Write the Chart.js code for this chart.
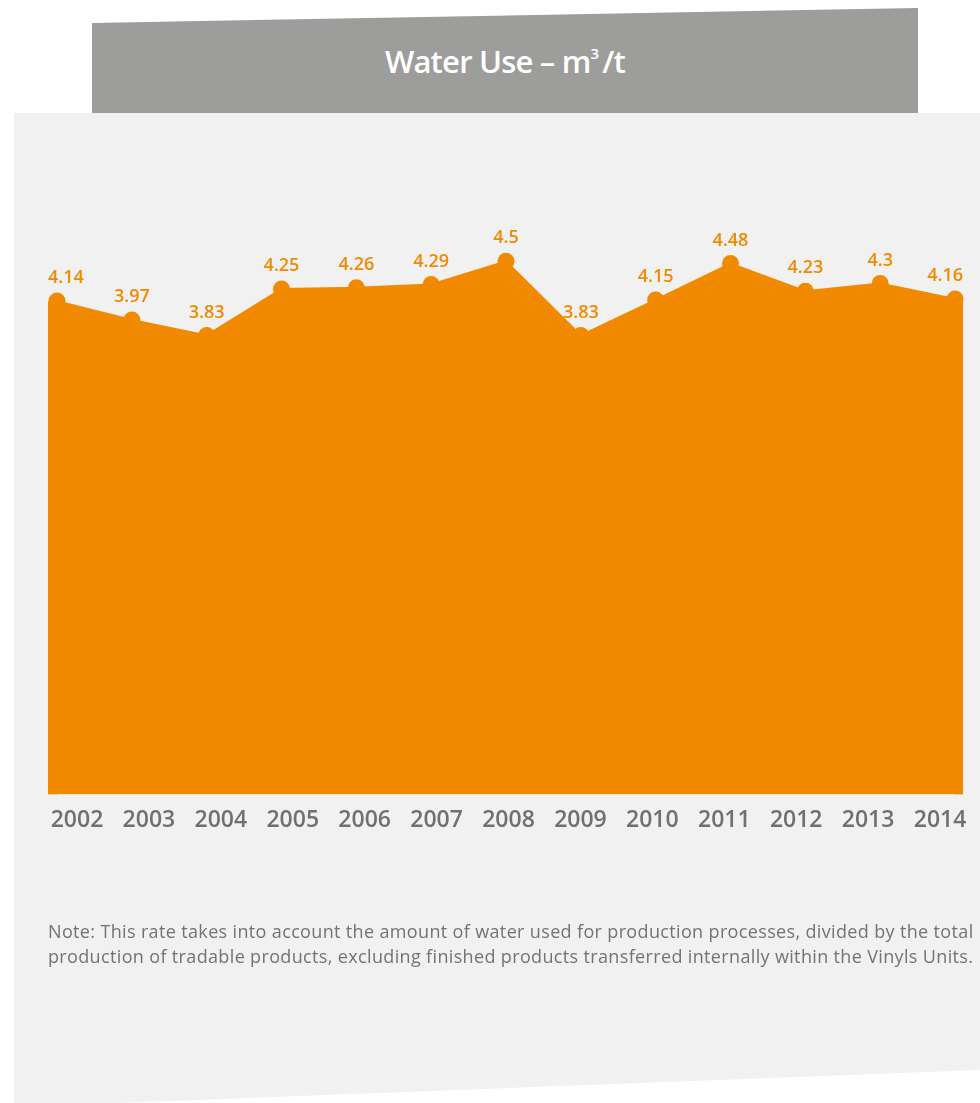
<!DOCTYPE html>
<html>
<head>
<meta charset="utf-8">
<script src="https://cdn.jsdelivr.net/npm/chart.js@4.4.1/dist/chart.umd.min.js"></script>
<style>
  html, body { margin: 0; padding: 0; background: #ffffff; }
  #wrap { position: relative; width: 980px; height: 1103px; overflow: hidden; background: #ffffff; }
  #panel { position: absolute; left: 0; top: 0; width: 980px; height: 1103px; background: #f1f1f1;
    clip-path: polygon(14px 113px, 980px 113px, 980px 1070px, 14px 1107px); }
  #banner { position: absolute; left: 0; top: 0; width: 980px; height: 113px; background: #9d9d9b;
    clip-path: polygon(92px 23px, 918px 8px, 918px 113px, 92px 113px); }
  #title { position: absolute; left: 92px; width: 826px; top: 46px; text-align: center; color: #ffffff;
    font-family: 'Open Sans', sans-serif; font-weight: 600; font-size: 31px; line-height: 31px; letter-spacing: -0.8px; white-space: nowrap; }
  #title sup { font-size: 15px; vertical-align: 0; position: relative; top: -14px; margin-right: 4px; }
  canvas { position: absolute; left: 0; top: 0; }
  #note { position: absolute; left: 48px; top: 919px; color: #737373; font-family: 'Open Sans', sans-serif;
    font-weight: 400; font-size: 18px; line-height: 25px; white-space: nowrap; letter-spacing: 0.35px; }
</style>
</head>
<body>
<div id="wrap">
  <div id="panel"></div>
  <div id="banner"></div>
  <div id="title">Water Use – m<sup>3</sup>/t</div>
  <canvas id="chart" width="980" height="1103"></canvas>
  <div id="note">Note: This rate takes into account the amount of water used for production processes, divided by the total<br>production of tradable products, excluding finished products transferred internally within the Vinyls Units.</div>
</div>
<script>
const categories = ['2002','2003','2004','2005','2006','2007','2008','2009','2010','2011','2012','2013','2014'];
const waterUse = [4.14, 3.97, 3.83, 4.25, 4.26, 4.29, 4.5, 3.83, 4.15, 4.48, 4.23, 4.3, 4.16];
const valueLabels = waterUse.map(v => String(v));

const ORANGE = '#F18A00';
Chart.defaults.font.family = "'Open Sans', sans-serif";

const edgeFill = {
  id: 'edgeFill',
  beforeDatasetsDraw(chart) {
    const pts = chart.getDatasetMeta(0).data;
    const bottom = chart.chartArea.bottom;
    const ctx = chart.ctx;
    const f = pts[0], l = pts[pts.length - 1];
    ctx.save();
    ctx.fillStyle = ORANGE;
    ctx.fillRect(f.x - 9, f.y, 9.5, bottom - f.y);
    ctx.fillRect(l.x - 0.5, l.y, 8.5, bottom - l.y);
    ctx.restore();
  }
};

const pointLabels = {
  id: 'pointLabels',
  afterDatasetsDraw(chart) {
    const pts = chart.getDatasetMeta(0).data;
    const ctx = chart.ctx;
    const left = pts[0].x - 9, right = pts[pts.length - 1].x + 8;
    ctx.save();
    ctx.font = "600 18px 'Open Sans'";
    ctx.fillStyle = ORANGE;
    ctx.textAlign = 'center';
    ctx.textBaseline = 'middle';
    pts.forEach((p, i) => {
      const t = valueLabels[i];
      const w = ctx.measureText(t).width;
      const x = Math.min(Math.max(p.x, left + w / 2), right - w / 2);
      ctx.fillText(t, x, p.y - 23);
    });
    ctx.restore();
  }
};

new Chart(document.getElementById('chart').getContext('2d'), {
  type: 'line',
  data: {
    labels: categories,
    datasets: [{
      data: waterUse,
      fill: 'start',
      backgroundColor: ORANGE,
      borderColor: ORANGE,
      borderWidth: 2,
      pointRadius: 8.5,
      pointBackgroundColor: ORANGE,
      pointBorderWidth: 0,
      tension: 0,
      clip: false
    }]
  },
  options: {
    responsive: false,
    animation: false,
    devicePixelRatio: 1,
    layout: { padding: { top: 206, left: 57, right: 25, bottom: 257 } },
    plugins: { legend: { display: false }, tooltip: { enabled: false } },
    scales: {
      x: { type: 'category', display: false },
      x2: {
        type: 'linear', position: 'bottom', min: 2001.722, max: 2014.208,
        grid: { display: false, drawTicks: false },
        border: { display: false },
        afterBuildTicks: axis => { axis.ticks = categories.map(c => ({ value: Number(c) })); },
        afterFit: axis => { axis.paddingLeft = 0; axis.paddingRight = 0; },
        ticks: {
          padding: 12, color: '#707070', autoSkip: false, maxRotation: 0,
          font: { family: "'Open Sans'", weight: '600', size: 23 },
          callback: v => { const i = categories.indexOf(String(v)); return i >= 0 ? categories[i] : ''; }
        }
      },
      y: { display: false, min: -0.32, max: 5.0 }
    }
  },
  plugins: [edgeFill, pointLabels]
});
</script>
</body>
</html>
